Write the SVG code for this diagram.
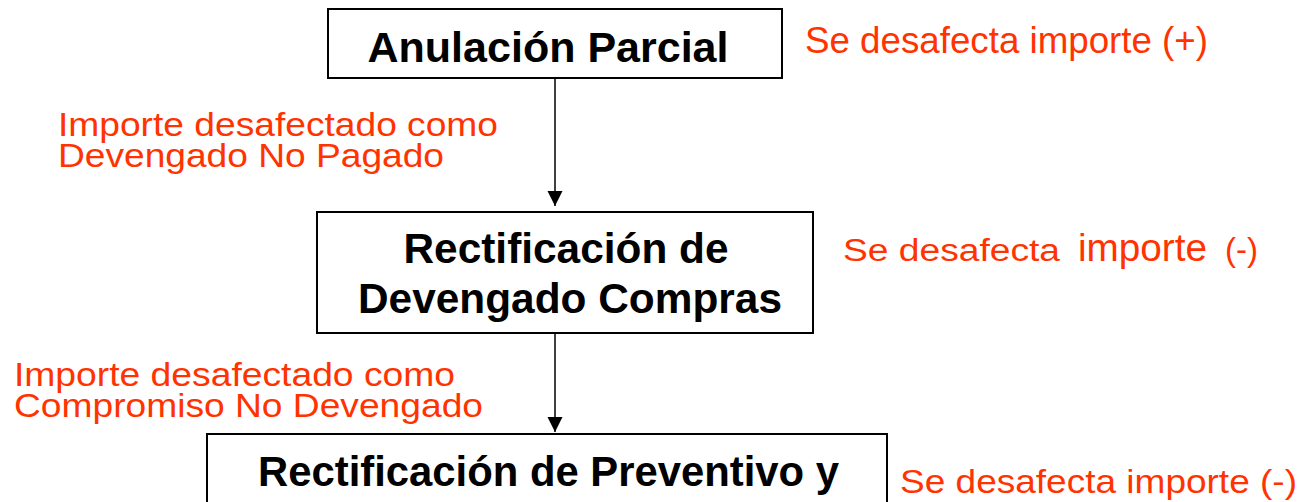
<svg xmlns="http://www.w3.org/2000/svg" width="1305" height="502" viewBox="0 0 1305 502">
  <style>
    .box { fill: #ffffff; stroke: #000000; stroke-width: 2; }
    .title { font-family: "Liberation Sans", Arial, sans-serif; font-weight: bold; font-size: 43px; fill: #000000; text-anchor: middle; }
    .note { font-family: "Liberation Sans", Arial, sans-serif; fill: #ff3300; }
    .conn { stroke: #000000; stroke-width: 1.5; fill: none; }
  </style>
  <defs>
    <marker id="arrow" markerUnits="userSpaceOnUse" markerWidth="16" markerHeight="16" refX="15" refY="7.5" orient="auto">
      <path d="M0,0 L15,7.5 L0,15 Z" fill="#000000"/>
    </marker>
  </defs>
  <rect width="1305" height="502" fill="#ffffff"/>

  <g id="connectors">
    <line class="conn" x1="555" y1="78" x2="555" y2="206" marker-end="url(#arrow)"/>
    <line class="conn" x1="555" y1="334" x2="555" y2="432" marker-end="url(#arrow)"/>
  </g>

  <g id="node-anulacion">
    <rect class="box" x="328" y="9" width="454" height="69"/>
    <text class="title" x="548" y="62" textLength="361" lengthAdjust="spacingAndGlyphs">Anulación Parcial</text>
  </g>

  <g id="node-rect-devengado">
    <rect class="box" x="317" y="212" width="496" height="121"/>
    <text class="title" x="566" y="263" textLength="325" lengthAdjust="spacingAndGlyphs">Rectificación de</text>
    <text class="title" x="570" y="313" textLength="424" lengthAdjust="spacingAndGlyphs">Devengado Compras</text>
  </g>

  <g id="node-rect-preventivo">
    <rect class="box" x="207" y="434" width="680" height="90"/>
    <text class="title" x="548.5" y="486" textLength="581" lengthAdjust="spacingAndGlyphs">Rectificación de Preventivo y</text>
  </g>

  <g id="labels">
    <text class="note" x="805" y="53" font-size="36.5" textLength="403" lengthAdjust="spacingAndGlyphs">Se desafecta importe (+)</text>
    <text class="note" x="58" y="136" font-size="33.5" textLength="440" lengthAdjust="spacingAndGlyphs">Importe desafectado como</text>
    <text class="note" x="58" y="167" font-size="33.5" textLength="386" lengthAdjust="spacingAndGlyphs">Devengado No Pagado</text>
    <text class="note" x="843" y="261"><tspan font-size="31" x="843" textLength="217" lengthAdjust="spacingAndGlyphs">Se desafecta</tspan> <tspan font-size="38" x="1078" textLength="129" lengthAdjust="spacingAndGlyphs">importe</tspan> <tspan font-size="33" x="1225" textLength="33" lengthAdjust="spacingAndGlyphs">(-)</tspan></text>
    <text class="note" x="14" y="386" font-size="33.5" textLength="441" lengthAdjust="spacingAndGlyphs">Importe desafectado como</text>
    <text class="note" x="14" y="417" font-size="33.5" textLength="469" lengthAdjust="spacingAndGlyphs">Compromiso No Devengado</text>
    <text class="note" x="900" y="493" font-size="33" textLength="397" lengthAdjust="spacingAndGlyphs">Se desafecta importe (-)</text>
  </g>
</svg>
